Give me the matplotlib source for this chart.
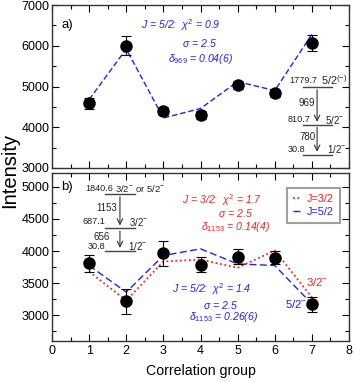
import matplotlib
matplotlib.use("Agg")
import matplotlib.pyplot as plt
from matplotlib.ticker import MultipleLocator

FAM = 'Liberation Sans'
plt.rcParams['font.family'] = [FAM, 'DejaVu Sans']
plt.rcParams['mathtext.fontset'] = 'custom'
plt.rcParams['mathtext.rm'] = FAM
plt.rcParams['mathtext.it'] = FAM + ':italic'

groups = [1, 2, 3, 4, 5, 6, 7]

# panel a) 969 keV
a_int = [4590, 6000, 4405, 4300, 5040, 4830, 6070]
a_err = [140, 230, 100, 100, 100, 80, 190]
a_fit52 = [4680, 5920, 4227, 4460, 5120, 4900, 6280]

# panel b) 1153 keV
b_int = [3810, 3222, 3966, 3790, 3915, 3894, 3170]
b_err = [130, 195, 195, 110, 110, 100, 110]
b_fit32 = [3680, 3232, 3837, 3868, 3740, 4008, 3280]
b_fit52 = [3775, 3361, 3930, 4034, 3800, 3775, 3180]

fig = plt.figure(figsize=(3.54, 3.82), dpi=100)
W, H = 354, 382
axa = fig.add_axes([52/W, 1-168/H, 297/W, 163/H])
axb = fig.add_axes([52/W, 1-340.5/H, 297/W, 168/H])

blue = '#2020ff'
red = '#ff2020'
grey = '#222222'
ANN = 7.6
LEV = 6.6
TCK = 9.0

for ax in (axa, axb):
    ax.set_xlim(0, 8)
    ax.xaxis.set_major_locator(MultipleLocator(1))
    ax.xaxis.set_minor_locator(MultipleLocator(0.5))
    ax.tick_params(which='both', direction='in', top=True, right=True, labelsize=TCK, width=0.8)
    ax.tick_params(which='major', length=5)
    ax.tick_params(which='minor', length=3)
    ax.tick_params(axis='y', which='both', pad=1.8)
    for s in ax.spines.values():
        s.set_linewidth(1.0)
        s.set_color('#333333')

# panel a
axa.set_ylim(3000, 7000)
axa.yaxis.set_major_locator(MultipleLocator(1000))
axa.yaxis.set_minor_locator(MultipleLocator(500))
axa.tick_params(labelbottom=False)
axa.plot(groups, a_fit52, ls=(0, (4, 2)), color=blue, lw=1.0)
axa.errorbar(groups, a_int, yerr=a_err, fmt='o', color='black', ms=8,
             capsize=3.5, elinewidth=0.8, capthick=0.8)
axa.text(0.25, 6500, 'a)', fontsize=9.5, va='center')
axa.text(3.47, 6509, r'J = 5/2:  $\chi^2$ = 0.9', color=blue, fontsize=ANN, style='italic', ha='center', va='center')
axa.text(3.98, 6075, r'$\sigma$ = 2.5', color=blue, fontsize=ANN, style='italic', ha='center', va='center')
axa.text(4.01, 5675, r'$\delta_{969}$ = 0.04(6)', color=blue, fontsize=ANN, style='italic', ha='center', va='center')

# level scheme a
lx0, lx1, arx = 6.75, 7.55, 7.14
for y in (4990, 4065, 3330):
    axa.plot([lx0, lx1], [y, y], color='#444444', lw=1.0)
axa.annotate('', xy=(arx, 4065), xytext=(arx, 4990),
             arrowprops=dict(arrowstyle='->', color='#333333', lw=0.8))
axa.annotate('', xy=(arx, 3330), xytext=(arx, 4065),
             arrowprops=dict(arrowstyle='->', color='#333333', lw=0.8))
axa.text(7.16, 5135, '1779.7', fontsize=LEV, ha='right', va='center', color=grey)
axa.text(7.25, 5160, r'5/2$^{(-)}$', fontsize=LEV+1.2, ha='left', va='center', color=grey)
axa.text(6.87, 4595, '969', fontsize=LEV+0.4, ha='center', va='center', color=grey)
axa.text(6.96, 4178, '810.7', fontsize=LEV, ha='right', va='center', color=grey)
axa.text(7.36, 4178, r'5/2$^{-}$', fontsize=LEV+0.4, ha='left', va='center', color=grey)
axa.text(6.87, 3761, '780', fontsize=LEV+0.4, ha='center', va='center', color=grey)
axa.text(6.82, 3466, '30.8', fontsize=LEV, ha='right', va='center', color=grey)
axa.text(7.41, 3466, r'1/2$^{-}$', fontsize=LEV+0.4, ha='left', va='center', color=grey)

# panel b
axb.set_ylim(2610, 5220)
axb.yaxis.set_major_locator(MultipleLocator(500))
axb.yaxis.set_minor_locator(MultipleLocator(250))
axb.plot(groups, b_fit32, ls=(0, (1, 1.5)), color=red, lw=1.3, label='J=3/2')
axb.plot(groups, b_fit52, ls=(0, (5, 2.5)), color=blue, lw=1.0, label='J=5/2')
axb.errorbar(groups, b_int, yerr=b_err, fmt='o', color='black', ms=8,
             capsize=3.5, elinewidth=0.8, capthick=0.8)
axb.text(0.25, 4990, 'b)', fontsize=9.5, va='center')
axb.text(4.57, 4793, r'J = 3/2:  $\chi^2$ = 1.7', color=red, fontsize=ANN, style='italic', ha='center', va='center')
axb.text(4.93, 4586, r'$\sigma$ = 2.5', color=red, fontsize=ANN, style='italic', ha='center', va='center')
axb.text(4.95, 4378, r'$\delta_{1153}$ = 0.14(4)', color=red, fontsize=ANN, style='italic', ha='center', va='center')
axb.text(4.31, 3405, r'J = 5/2:  $\chi^2$ = 1.4', color=blue, fontsize=ANN, style='italic', ha='center', va='center')
axb.text(4.53, 3162, r'$\sigma$ = 2.5', color=blue, fontsize=ANN, style='italic', ha='center', va='center')
axb.text(4.62, 2975, r'$\delta_{1153}$ = 0.26(6)', color=blue, fontsize=ANN, style='italic', ha='center', va='center')
axb.text(7.14, 3523, r'3/2$^{-}$', color=red, fontsize=ANN+0.6, ha='center', va='center')
axb.text(6.58, 3177, r'5/2$^{-}$', color=blue, fontsize=ANN+0.6, ha='center', va='center')

# level scheme b
bx0, bx1, bax = 1.43, 2.24, 1.83
for y in (4886, 4353, 4005):
    axb.plot([bx0, bx1], [y, y], color='#444444', lw=1.0)
axb.annotate('', xy=(bax, 4353), xytext=(bax, 4886),
             arrowprops=dict(arrowstyle='->', color='#333333', lw=0.8))
axb.annotate('', xy=(bax, 4005), xytext=(bax, 4353),
             arrowprops=dict(arrowstyle='->', color='#333333', lw=0.8))
axb.text(1.64, 4964, '1840.6', fontsize=LEV, ha='right', va='center', color=grey)
axb.text(1.71, 4964, r'3/2$^{-}$ or 5/2$^{-}$', fontsize=LEV+0.2, ha='left', va='center', color=grey)
axb.text(1.48, 4673, '1153', fontsize=LEV+0.4, ha='center', va='center', color=grey)
axb.text(1.43, 4456, '687.1', fontsize=LEV, ha='right', va='center', color=grey)
axb.text(2.08, 4456, r'3/2$^{-}$', fontsize=LEV+0.4, ha='left', va='center', color=grey)
axb.text(1.35, 4223, '656', fontsize=LEV+0.4, ha='center', va='center', color=grey)
axb.text(1.43, 4078, '30.8', fontsize=LEV, ha='right', va='center', color=grey)
axb.text(2.05, 4078, r'1/2$^{-}$', fontsize=LEV+0.4, ha='left', va='center', color=grey)

leg = axb.legend(loc='upper right', fontsize=7.8, handlelength=0.8, handletextpad=0.5,
                 frameon=True, fancybox=False, borderpad=0.55, labelspacing=0.25,
                 borderaxespad=0, bbox_to_anchor=(0.97, 0.908))
leg.get_frame().set_edgecolor('#888888')
leg.get_frame().set_linewidth(1.5)
for t, c in zip(leg.get_texts(), [red, blue]):
    t.set_color(c)

axb.set_xlabel('Correlation group', fontsize=10.2, labelpad=5)
fig.text(10/W, 1-170/H, 'Intensity', rotation=90, fontsize=14.5, ha='center', va='center')

fig.savefig('out.png', dpi=100)
